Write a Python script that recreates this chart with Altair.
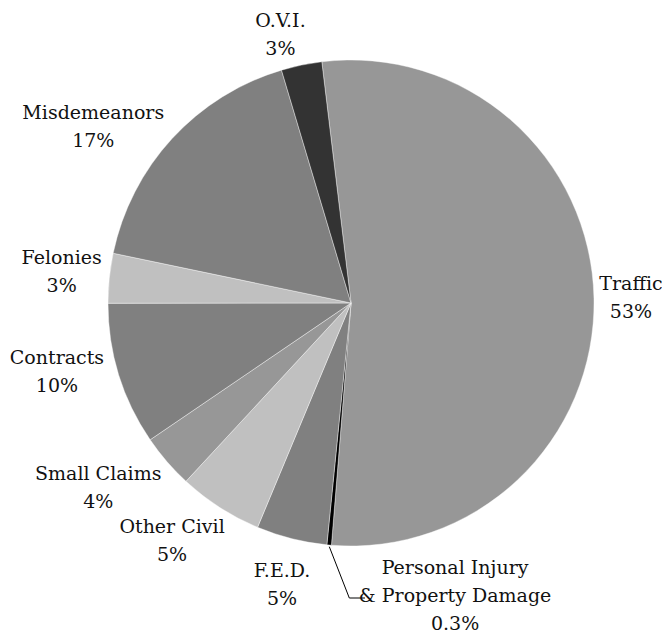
import math
import altair as alt
import pandas as pd

# ---- data ----
categories = ["Traffic", "Personal Injury & Property Damage", "F.E.D.", "Other Civil",
              "Small Claims", "Contracts", "Felonies", "Misdemeanors", "O.V.I."]
shares = [53.2, 0.3, 4.7, 5.6, 3.6, 9.5, 3.3, 17.1, 2.7]
label_texts = ["Traffic\n53%", "Personal Injury\n& Property Damage\n0.3%", "F.E.D.\n5%",
               "Other Civil\n5%", "Small Claims\n4%", "Contracts\n10%", "Felonies\n3%",
               "Misdemeanors\n17%", "O.V.I.\n3%"]

# ---- styling / layout ----
colors = ["#979797", "#000000", "#808080", "#c0c0c0", "#979797",
          "#808080", "#c0c0c0", "#808080", "#333333"]
label_nudge_deg = [0.2, -25.6, -0.4, 4.2, 4.6, 4.0, 0.2, -8.3, -3.0]
label_radius = [280, 298, 290, 298, 313, 302, 291, 312, 277]
start_deg = -6.9
cx, cy, R = 343, 295, 243
leader = [(321.3, 538.7, 341.3, 590.0), (341.3, 590.0, 357.0, 590.0)]
FONT = "DejaVu Serif"

total = sum(shares)
ends = pd.Series(shares).cumsum()
starts = ends - pd.Series(shares)
df = pd.DataFrame({
    "cat": categories,
    "value": shares,
    "start": starts,
    "end": ends,
    "label": label_texts,
    "lpos": (starts + ends) / 2 + pd.Series(label_nudge_deg) * total / 360.0,
    "lr": label_radius,
})

off = math.radians(start_deg) + 2 * math.pi
theta_scale = alt.Scale(domain=[0, total], range=[off, off + 2 * math.pi])

arcs = alt.Chart(df).mark_arc(outerRadius=R, stroke="white", strokeWidth=0.4).encode(
    theta=alt.Theta("start:Q", scale=theta_scale, stack=None),
    theta2="end:Q",
    color=alt.Color("cat:N", scale=alt.Scale(domain=categories, range=colors), legend=None),
    x=alt.value(cx),
    y=alt.value(cy),
)

labels = alt.Chart(df).mark_text(
    font=FONT, fontSize=19, lineHeight=28, lineBreak="\n",
    align="center", baseline="middle", dy=-14, color="#111111",
).encode(
    theta=alt.Theta("lpos:Q", scale=theta_scale, stack=None),
    radius=alt.Radius("lr:Q", scale=None),
    text="label:N",
    x=alt.value(cx),
    y=alt.value(cy),
)

ldf = pd.DataFrame(leader, columns=["x1", "y1", "x2", "y2"])
leader_lines = alt.Chart(ldf).mark_rule(color="#000000", strokeWidth=1).encode(
    x=alt.X("x1:Q", scale=None),
    y=alt.Y("y1:Q", scale=None),
    x2="x2:Q",
    y2="y2:Q",
)

chart = alt.layer(arcs, leader_lines, labels).properties(
    width=654, height=626, padding=0,
    autosize=alt.AutoSizeParams(type="none"),
).configure(background="white", font=FONT).configure_view(stroke=None).configure_text(font=FONT)

chart.save("out.html", embed_options={"renderer": "svg", "actions": False})
